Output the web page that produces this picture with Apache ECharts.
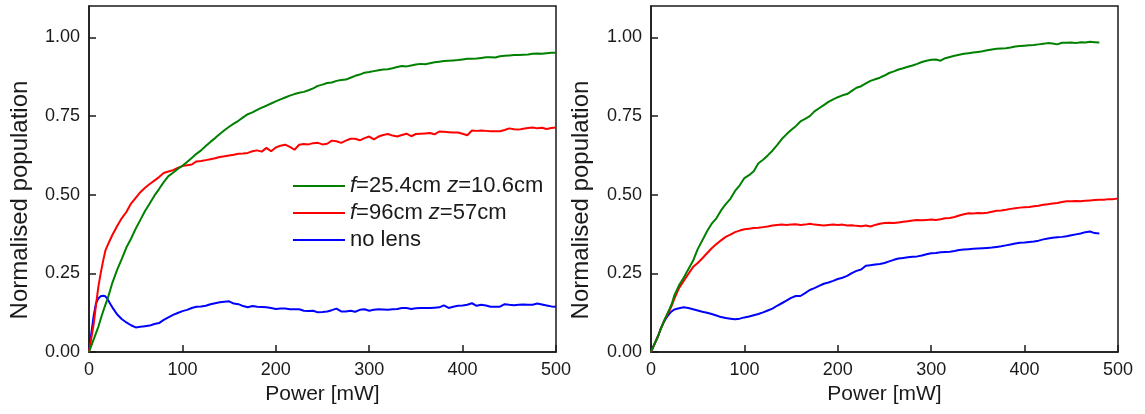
<!DOCTYPE html>
<html>
<head>
<meta charset="utf-8">
<script src="https://cdn.jsdelivr.net/npm/echarts@6/dist/echarts.min.js"></script>
<style>
html,body{margin:0;padding:0;background:#fff;}
#chart{width:1145px;height:414px;}
</style>
</head>
<body>
<div id="chart"></div>
<script>
var seriesNames = ['f=25.4cm z=10.6cm', 'f=96cm z=57cm', 'no lens'];
var seriesColors = ['#008000', '#ff0000', '#0000ff'];
var xTicks = [0, 100, 200, 300, 400, 500];
var yTicks = [0, 0.25, 0.5, 0.75, 1.0];

var power = [0, 2.5, 5, 7.5, 10, 12.5, 15, 17.5, 20, 22.5, 25,
  30, 35, 40, 45, 50, 55, 60, 65, 70, 75,
  80, 85, 90, 95, 100, 105, 110, 115, 120, 125,
  130, 135, 140, 145, 150, 155, 160, 165, 170, 175,
  180, 185, 190, 195, 200, 205, 210, 215, 220, 225,
  230, 235, 240, 245, 250, 255, 260, 265, 270, 275,
  280, 285, 290, 295, 300, 305, 310, 315, 320, 325,
  330, 335, 340, 345, 350, 355, 360, 365, 370, 375,
  380, 385, 390, 395, 400, 405, 410, 415, 420, 425,
  430, 435, 440, 445, 450, 455, 460, 465, 470, 475,
  480, 485, 490, 495, 500];

var leftGreen = [0, 0.02, 0.04, 0.06, 0.08, 0.105, 0.128, 0.15, 0.17, 0.195, 0.22,
  0.26, 0.295, 0.332, 0.36, 0.392, 0.42, 0.448, 0.472, 0.497, 0.518,
  0.54, 0.559, 0.57, 0.582, 0.592, 0.604, 0.617, 0.63, 0.641, 0.655,
  0.668, 0.68, 0.693, 0.705, 0.716, 0.726, 0.735, 0.746, 0.756, 0.762,
  0.77, 0.777, 0.783, 0.79, 0.797, 0.803, 0.809, 0.815, 0.82, 0.824,
  0.827, 0.832, 0.838, 0.846, 0.85, 0.855, 0.857, 0.862, 0.865, 0.866,
  0.872, 0.878, 0.882, 0.888, 0.89, 0.893, 0.896, 0.898, 0.899, 0.902,
  0.906, 0.909, 0.908, 0.911, 0.914, 0.916, 0.915, 0.918, 0.921, 0.923,
  0.925, 0.926, 0.927, 0.928, 0.93, 0.932, 0.932, 0.933, 0.935, 0.937,
  0.937, 0.936, 0.94, 0.942, 0.943, 0.944, 0.944, 0.945, 0.946, 0.948,
  0.949, 0.948, 0.95, 0.951, 0.951];

var leftRed = [0, 0.045, 0.088, 0.15, 0.207, 0.25, 0.288, 0.322, 0.34, 0.356, 0.372,
  0.4, 0.425, 0.445, 0.472, 0.49, 0.508, 0.522, 0.534, 0.545, 0.556,
  0.569, 0.574, 0.578, 0.585, 0.591, 0.594, 0.596, 0.606, 0.607, 0.61,
  0.613, 0.616, 0.62, 0.622, 0.625, 0.627, 0.63, 0.631, 0.633, 0.638,
  0.641, 0.637, 0.649, 0.638, 0.65, 0.656, 0.659, 0.652, 0.643, 0.659,
  0.661, 0.66, 0.664, 0.665, 0.66, 0.662, 0.672, 0.67, 0.665, 0.672,
  0.678, 0.678, 0.673, 0.68, 0.685, 0.676, 0.685, 0.69, 0.693, 0.688,
  0.685, 0.69, 0.694, 0.686, 0.693, 0.694, 0.695, 0.696, 0.692, 0.701,
  0.7, 0.699, 0.698, 0.698, 0.694, 0.689, 0.704, 0.703, 0.704, 0.703,
  0.702, 0.702, 0.702, 0.706, 0.711, 0.708, 0.707, 0.71, 0.712, 0.714,
  0.711, 0.713, 0.709, 0.712, 0.714];

var leftBlue = [0, 0.06, 0.115, 0.155, 0.17, 0.177, 0.179, 0.177, 0.168, 0.154, 0.142,
  0.12, 0.105, 0.094, 0.085, 0.078, 0.08, 0.082, 0.084, 0.089, 0.092,
  0.102, 0.11, 0.118, 0.124, 0.13, 0.134, 0.14, 0.144, 0.145, 0.147,
  0.152, 0.155, 0.158, 0.16, 0.161, 0.154, 0.152, 0.146, 0.142, 0.146,
  0.144, 0.143, 0.142, 0.14, 0.137, 0.138, 0.138, 0.136, 0.136, 0.136,
  0.131, 0.13, 0.131, 0.126, 0.127, 0.129, 0.133, 0.138, 0.129, 0.129,
  0.131, 0.128, 0.134, 0.136, 0.131, 0.134, 0.136, 0.135, 0.134, 0.136,
  0.137, 0.14, 0.14, 0.137, 0.139, 0.14, 0.14, 0.14, 0.141, 0.142,
  0.148, 0.14, 0.144, 0.147, 0.148, 0.15, 0.155, 0.147, 0.15, 0.148,
  0.144, 0.144, 0.144, 0.152, 0.15, 0.149, 0.15, 0.151, 0.15, 0.15,
  0.154, 0.151, 0.148, 0.145, 0.144];

var rightGreen = [0, 0.017, 0.034, 0.05, 0.07, 0.088, 0.106, 0.122, 0.138, 0.155, 0.18,
  0.212, 0.236, 0.263, 0.29, 0.327, 0.355, 0.384, 0.408, 0.425, 0.45,
  0.47, 0.487, 0.512, 0.53, 0.553, 0.562, 0.575, 0.6, 0.611, 0.625,
  0.64, 0.658, 0.677, 0.692, 0.706, 0.718, 0.733, 0.741, 0.75, 0.765,
  0.775, 0.785, 0.795, 0.803, 0.81, 0.816, 0.82, 0.83, 0.84, 0.845,
  0.854, 0.862, 0.867, 0.872, 0.879, 0.887, 0.892, 0.898, 0.902, 0.907,
  0.911, 0.916, 0.922, 0.926, 0.929, 0.93, 0.926, 0.934, 0.938, 0.942,
  0.945, 0.948, 0.95, 0.952, 0.954, 0.956, 0.959, 0.962, 0.964, 0.965,
  0.966, 0.968, 0.971, 0.973, 0.974, 0.975, 0.976, 0.978, 0.98, 0.982,
  0.981, 0.978, 0.983, 0.983, 0.984, 0.982, 0.985, 0.984, 0.986, 0.985,
  0.984];

var rightRed = [0, 0.017, 0.034, 0.05, 0.07, 0.088, 0.104, 0.118, 0.132, 0.15, 0.17,
  0.203, 0.226, 0.248, 0.27, 0.283, 0.298, 0.314, 0.33, 0.343, 0.355,
  0.366, 0.373, 0.381, 0.386, 0.39, 0.392, 0.394, 0.395, 0.397, 0.399,
  0.402, 0.404, 0.405, 0.404, 0.405, 0.406, 0.404, 0.405, 0.408, 0.405,
  0.404, 0.402, 0.404, 0.405, 0.404, 0.405, 0.402, 0.403, 0.401, 0.4,
  0.402, 0.399, 0.404, 0.408, 0.41, 0.411, 0.41, 0.412, 0.414, 0.416,
  0.418, 0.42, 0.419, 0.42, 0.421, 0.42, 0.422, 0.425, 0.426, 0.429,
  0.434, 0.438, 0.441, 0.44, 0.442, 0.441, 0.443, 0.446, 0.449, 0.45,
  0.452, 0.455, 0.457, 0.459, 0.46, 0.461, 0.463, 0.465, 0.468, 0.47,
  0.472, 0.474, 0.477, 0.479, 0.479, 0.48, 0.479, 0.481, 0.482, 0.483,
  0.484, 0.484, 0.486, 0.486, 0.488];

var rightBlue = [0, 0.017, 0.034, 0.05, 0.07, 0.088, 0.102, 0.113, 0.123, 0.13, 0.135,
  0.139, 0.142, 0.14, 0.136, 0.132, 0.128, 0.125, 0.121, 0.116, 0.111,
  0.108, 0.106, 0.104, 0.106, 0.11, 0.113, 0.117, 0.121, 0.126, 0.132,
  0.138, 0.147, 0.155, 0.163, 0.172, 0.178, 0.178, 0.187, 0.197, 0.203,
  0.21, 0.217, 0.221, 0.226, 0.232, 0.236, 0.242, 0.251, 0.258, 0.262,
  0.274, 0.276, 0.278, 0.28, 0.283, 0.288, 0.293, 0.297, 0.299, 0.301,
  0.303, 0.304, 0.307, 0.311, 0.314, 0.315, 0.317, 0.318, 0.319, 0.321,
  0.324, 0.326, 0.327, 0.328, 0.329, 0.33, 0.331, 0.332, 0.334, 0.336,
  0.339, 0.342, 0.345, 0.347, 0.348, 0.35, 0.351, 0.354, 0.358, 0.361,
  0.363, 0.365, 0.366, 0.368, 0.371, 0.374, 0.377, 0.381, 0.383, 0.378,
  0.377];

var FONT = 'Liberation Sans, Arial, sans-serif';
var INK = '#1a1a1a';

function pairs(vals) {
  return vals.map(function (v, i) { return [power[i], v]; });
}

function xAxisDef(gridIndex) {
  return {
    type: 'value', gridIndex: gridIndex, min: xTicks[0], max: xTicks[xTicks.length - 1],
    interval: xTicks[1] - xTicks[0],
    name: 'Power [mW]', nameLocation: 'middle', nameGap: 31,
    nameTextStyle: { fontFamily: FONT, fontSize: 21, color: INK },
    axisLine: { show: true, onZero: false, lineStyle: { color: INK, width: 1.5 } },
    axisTick: { show: true, inside: true, length: 7, lineStyle: { color: INK, width: 1.5 } },
    axisLabel: { fontFamily: FONT, fontSize: 18, color: INK, margin: 9 },
    splitLine: { show: false }
  };
}
function yAxisDef(gridIndex) {
  return {
    type: 'value', gridIndex: gridIndex, min: 0, max: 1.1, interval: yTicks[1] - yTicks[0],
    axisLine: { show: true, onZero: false, lineStyle: { color: INK, width: 1.5 } },
    axisTick: { show: true, inside: true, length: 7, lineStyle: { color: INK, width: 1.5 } },
    axisLabel: {
      fontFamily: FONT, fontSize: 18, color: INK, margin: 9, showMaxLabel: false,
      formatter: function (v) { return yTicks.indexOf(Math.round(v * 100) / 100) >= 0 ? v.toFixed(2) : ''; }
    },
    splitLine: { show: false }
  };
}

var panels = [
  { g: leftGreen, r: leftRed, b: leftBlue },
  { g: rightGreen, r: rightRed, b: rightBlue }
];
var series = [];
panels.forEach(function (p, gi) {
  [p.g, p.r, p.b].forEach(function (vals, si) {
    series.push({
      type: 'line', name: seriesNames[si], xAxisIndex: gi, yAxisIndex: gi,
      data: pairs(vals), symbol: 'none', showSymbol: false, smooth: false,
      color: seriesColors[si],
      lineStyle: { color: seriesColors[si], width: 2 },
      z: 3 - si, animation: false
    });
  });
});

var chart = echarts.init(document.getElementById('chart'), null, { renderer: 'canvas' });
chart.setOption({
  backgroundColor: '#ffffff',
  animation: false,
  grid: [
    { left: 89, top: 6, width: 467, height: 346, show: true, borderColor: INK, borderWidth: 1.5, backgroundColor: 'transparent' },
    { left: 651, top: 6, width: 467, height: 346, show: true, borderColor: INK, borderWidth: 1.5, backgroundColor: 'transparent' }
  ],
  xAxis: [xAxisDef(0), xAxisDef(1)],
  yAxis: [yAxisDef(0), yAxisDef(1)],
  legend: {
    data: seriesNames, orient: 'vertical', left: 293, top: 174, padding: 0,
    itemGap: 3, itemWidth: 52, itemHeight: 2, icon: 'rect', selectedMode: false,
    textStyle: {
      fontFamily: FONT, fontSize: 22, color: INK, lineHeight: 24,
      rich: { i: { fontFamily: FONT, fontSize: 22, fontStyle: 'italic', color: INK, lineHeight: 24 } }
    },
    formatter: function (name) {
      return name.replace('f=', '{i|f}=').replace(' z=', ' {i|z}=');
    }
  },
  graphic: [
    { type: 'text', x: 20, y: 200, rotation: Math.PI / 2,
      style: { text: 'Normalised population', fontFamily: FONT, fontSize: 24, fill: INK, align: 'center', verticalAlign: 'middle' } },
    { type: 'text', x: 581, y: 200, rotation: Math.PI / 2,
      style: { text: 'Normalised population', fontFamily: FONT, fontSize: 24, fill: INK, align: 'center', verticalAlign: 'middle' } }
  ],
  series: series
});
</script>
</body>
</html>
